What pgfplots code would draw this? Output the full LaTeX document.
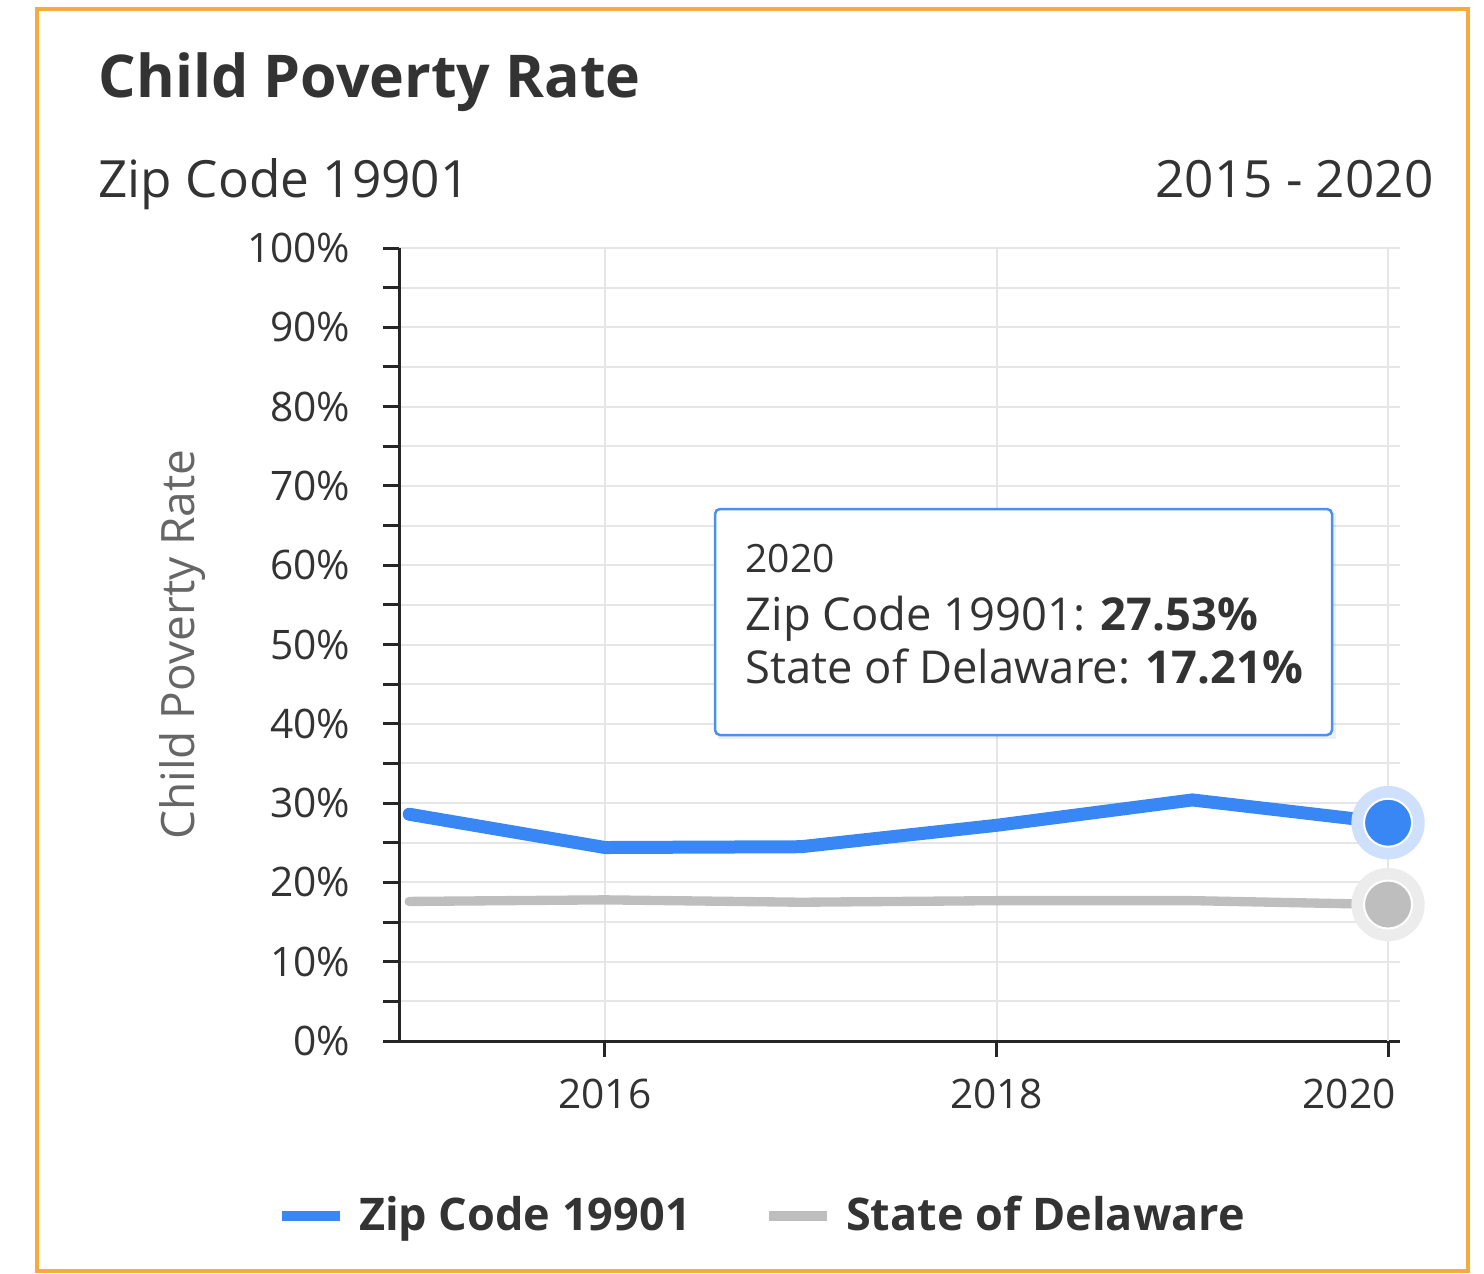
\documentclass[border=0pt]{standalone}
\usepackage{fontspec}
\setmainfont{Open Sans}
\usepackage{pgfplots}
\pgfplotsset{compat=1.18}

\definecolor{zipblue}{RGB}{56,135,245}
\definecolor{zipblueHalo}{RGB}{207,224,252}
\definecolor{stategrey}{RGB}{190,190,190}
\definecolor{stategreyHalo}{RGB}{236,236,236}
\definecolor{gridgrey}{RGB}{230,230,230}
\definecolor{txt}{RGB}{51,51,51}
\definecolor{boxorange}{RGB}{247,171,60}
\definecolor{tipblue}{RGB}{74,144,238}

\begin{document}
\begin{tikzpicture}[x=0.3pt,y=-0.3pt]
\path[use as bounding box] (0,0) rectangle (1484,1273);
\draw[boxorange, line width=1.1pt] (37,9) rectangle (1468,1271);

% titles
\node[anchor=base west, inner sep=0pt, text=txt, font=\bfseries\fontsize{17.7}{21}\selectfont] at (98,97) {Child Poverty Rate};
\node[anchor=base west, inner sep=0pt, text=txt, font=\fontsize{15.4}{18}\selectfont] at (98,197) {Zip Code 19901};
\node[anchor=base east, inner sep=0pt, text=txt, font=\fontsize{15.4}{18}\selectfont] at (1434,197) {2015 - 2020};

\begin{axis}[
  at={(119.7pt,-312.3pt)}, anchor=south west,
  scale only axis, width=300.3pt, height=237.9pt,
  xmin=2014.948, xmax=2020.061, ymin=0, ymax=100,
  axis x line*=bottom, axis y line*=left,
  axis line style={line width=0.9pt, black!85},
  xtick={2016,2018},
  extra x ticks={2020},
  extra x tick style={grid=major, xticklabel style={xshift=-11.7pt}},
  ytick={0,10,...,100}, minor ytick={5,15,...,95},
  tick align=outside, major tick length=4.8pt, minor tick length=4.8pt,
  tick style={line width=0.9pt, black!85},
  xmajorgrids, ymajorgrids, yminorgrids,
  major grid style={gridgrey, line width=0.6pt},
  minor grid style={gridgrey, line width=0.6pt},
  /pgf/number format/assume math mode=true,
  /pgf/number format/1000 sep={},
  ticklabel style={font=\fontsize{12.2}{14}\selectfont, text=txt},
  yticklabel style={xshift=-6.3pt},
  xticklabel style={yshift=-3pt},
  yticklabel={\pgfmathprintnumber{\tick}\%},
  ylabel={Child Poverty Rate},
  ylabel style={at={(axis description cs:-0.216,0.5)}, anchor=center,
    font=\fontsize{13.8}{16}\selectfont, text=black!60},
  clip=false,
  legend columns=2,
  legend style={at={(0.365,-0.2207)}, anchor=center, draw=none, fill=none,
    font=\bfseries\fontsize{13.5}{16}\selectfont, text=txt,
    /tikz/every odd column/.append style={column sep=2.4pt},
    /tikz/every even column/.append style={column sep=20pt}},
  legend image code/.code={\draw[#1, line width=2.8pt, line cap=butt] (0pt,0pt) -- (17.4pt,0pt);},
]
\addplot[zipblue, line width=3.9pt, line join=round, line cap=round]
  coordinates {(2015,28.6)(2016,24.4)(2017,24.5)(2018,27.2)(2019,30.4)(2020,27.53)};
\addlegendentry{Zip Code 19901}
\addplot[stategrey, line width=2.8pt, line join=round, line cap=round]
  coordinates {(2015,17.6)(2016,17.8)(2017,17.5)(2018,17.7)(2019,17.7)(2020,17.21)};
\addlegendentry{State of Delaware}

\addplot[forget plot, only marks, mark=*, mark size=10.8pt, color=zipblueHalo,
  mark options={fill=zipblueHalo, draw=zipblueHalo}]
  coordinates {(2020,27.53)};
\addplot[forget plot, only marks, mark=*, mark size=7.2pt, color=zipblue,
  mark options={fill=zipblue, draw=white, line width=0.6pt}]
  coordinates {(2020,27.53)};
\addplot[forget plot, only marks, mark=*, mark size=10.8pt, color=stategreyHalo,
  mark options={fill=stategreyHalo, draw=stategreyHalo}]
  coordinates {(2020,17.21)};
\addplot[forget plot, only marks, mark=*, mark size=7.2pt, color=stategrey,
  mark options={fill=stategrey, draw=white, line width=0.6pt}]
  coordinates {(2020,17.21)};
\end{axis}

% tooltip
\fill[black, opacity=0.06] (718,513) rectangle (1336,739);
\draw[tipblue, line width=0.75pt, fill=white, rounded corners=1.5pt] (715,509) rectangle (1332,735);
\node[anchor=base west, inner sep=0pt, text=txt, font=\fontsize{11.7}{14}\selectfont] at (745,572) {2020};
\node[anchor=base west, inner sep=0pt, text=txt, font=\fontsize{13.6}{16}\selectfont] at (745,630) {Zip Code 19901: \textbf{27.53\%}};
\node[anchor=base west, inner sep=0pt, text=txt, font=\fontsize{13.6}{16}\selectfont] at (745,683) {State of Delaware: \textbf{17.21\%}};
\end{tikzpicture}
\end{document}
